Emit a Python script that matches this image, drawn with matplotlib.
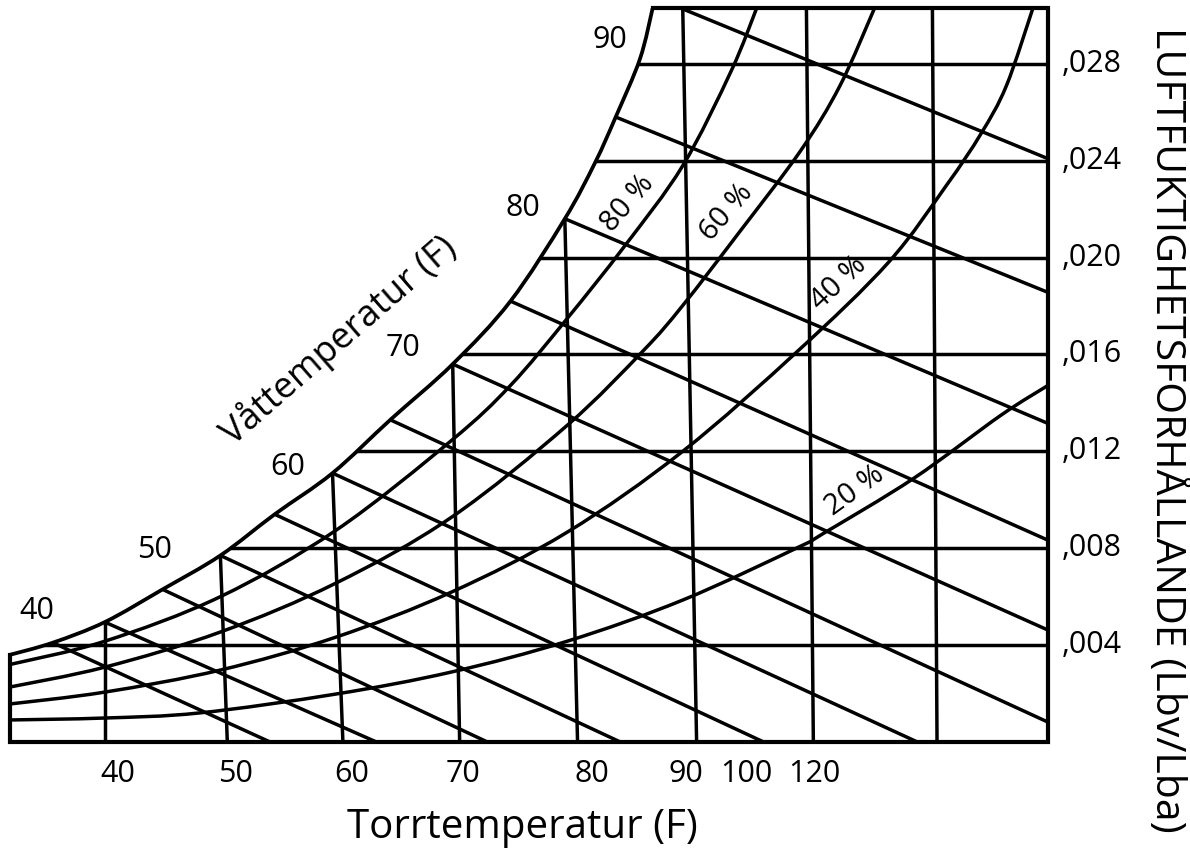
import numpy as np
import matplotlib.pyplot as plt
from matplotlib.path import Path
from matplotlib.patches import PathPatch

plt.rcParams['font.family'] = ['Open Sans', 'DejaVu Sans']

# chart range: dry bulb (F) and humidity ratio (lb/lb)
t_min, t_max = 31.8, 121.6
w_max = 0.0303

# relative humidity curves (dry bulb F, humidity ratio)
sat_t = [31.8, 35.5, 40.0, 45.0, 50.0, 54.7, 59.7, 64.7, 70.1, 75.1, 79.8, 82.4, 84.2, 86.3, 87.4]
sat_w = [0.0036, 0.0041, 0.00495, 0.0063, 0.0077, 0.0094, 0.0111, 0.0133, 0.0156, 0.0182, 0.0216, 0.0239, 0.0258, 0.0282, 0.0303]

rh80_t = [31.8, 40, 50, 60, 70, 75.1, 80, 85, 90, 94.2, 96.4]
rh80_w = [0.0032, 0.00416, 0.0060, 0.00874, 0.01245, 0.01472, 0.01748, 0.02049, 0.02379, 0.02771, 0.0303]

rh60_t = [31.8, 40, 50, 60, 70, 80, 86.6, 90, 95, 100.2, 103.6, 106.6]
rh60_w = [0.00227, 0.00309, 0.00454, 0.00656, 0.00928, 0.01307, 0.01616, 0.01802, 0.02111, 0.02441, 0.02709, 0.0303]

rh40_t = [31.8, 40, 50, 60, 70, 80, 90, 100, 107.8, 112.8, 115.8, 118.0, 120.3]
rh40_w = [0.00157, 0.00206, 0.00297, 0.00433, 0.00619, 0.00866, 0.0120, 0.01616, 0.01980, 0.02297, 0.02511, 0.02709, 0.0303]

rh20_t = [31.8, 40, 48.2, 60, 70, 80, 90, 100, 102.2, 110, 117.5, 121.6]
rh20_w = [0.00091, 0.00099, 0.0012, 0.00198, 0.00289, 0.00416, 0.00586, 0.00804, 0.00862, 0.01089, 0.01348, 0.01472]

# wet bulb lines: start on saturation, end on bottom or right edge
wb_t0 = [35.5, 40.0, 45.0, 50.0, 54.7, 59.7, 64.7, 70.1, 75.1, 79.8, 84.2, 89.8]
wb_w0 = [0.0041, 0.00495, 0.0063, 0.0077, 0.0094, 0.0111, 0.0133, 0.0156, 0.0182, 0.0216, 0.0258, 0.0303]
wb_t1 = [54.3, 63.5, 73.1, 84.6, 97.0, 110.3, 121.6, 121.6, 121.6, 121.6, 121.6, 121.6]
wb_w1 = [0.0, 0.0, 0.0, 0.0, 0.0, 0.0, 0.00082, 0.00462, 0.00833, 0.01315, 0.01856, 0.02408]

# dry bulb lines (slightly slanted)
db_top_t = [40.0, 50.0, 59.7, 70.1, 79.8, 90.0, 100.7, 111.6]
db_top_w = [0.00495, 0.0077, 0.0111, 0.0156, 0.0216, 0.0303, 0.0303, 0.0303]
db_bot_t = [40.0, 50.6, 60.6, 70.7, 80.9, 91.2, 101.3, 112.0]

# humidity ratio lines
w_lines = [0.004, 0.008, 0.012, 0.016, 0.020, 0.024, 0.028]
w_labels = [',004', ',008', ',012', ',016', ',020', ',024', ',028']

# labels
wb_labels = ['40', '50', '60', '70', '80', '90']
wb_lab_t = [34.1, 44.3, 55.8, 65.8, 76.2, 83.7]
wb_lab_w = [0.0054, 0.00792, 0.01134, 0.01625, 0.02206, 0.02899]

x_labels = ['40', '50', '60', '70', '80', '90', '100', '120']
x_lab_t = [41.1, 51.3, 61.4, 71.0, 82.1, 90.3, 95.5, 101.4]

rh_labels = ['80 %', '60 %', '40 %', '20 %']
rh_lab_t = [85.2, 93.8, 103.5, 104.9]
rh_lab_w = [0.02223, 0.02186, 0.01893, 0.01039]
rh_lab_rot = [49, 49, 43, 36]


def smooth_curve(ax, t, w, lw):
    # draw a smooth curve through the read points (cubic bezier segments)
    p = np.column_stack([t, w]).astype(float)
    p = np.vstack([p[0], p, p[-1]])
    verts = [p[1]]
    codes = [Path.MOVETO]
    for i in range(1, len(p) - 2):
        c1 = p[i] + (p[i + 1] - p[i - 1]) / 6
        c2 = p[i + 1] - (p[i + 2] - p[i]) / 6
        verts += [c1, c2, p[i + 1]]
        codes += [Path.CURVE4] * 3
    ax.add_patch(PathPatch(Path(verts, codes), fill=False, edgecolor='black',
                           lw=lw, capstyle='butt'))


fig = plt.figure(figsize=(11.9, 8.48), dpi=100)
ax = fig.add_axes([10 / 1190, 106 / 848, 1038 / 1190, 734 / 848])
ax.set_xlim(t_min, t_max)
ax.set_ylim(0, w_max)
for s in ax.spines.values():
    s.set_visible(False)

lw = 2.5
kw = dict(color='black', lw=lw, solid_capstyle='butt')

for t, w in [(rh80_t, rh80_w), (rh60_t, rh60_w), (rh40_t, rh40_w), (rh20_t, rh20_w)]:
    smooth_curve(ax, t, w, lw)
smooth_curve(ax, sat_t, sat_w, 2.7)

for i in range(len(wb_t0)):
    ax.plot([wb_t0[i], wb_t1[i]], [wb_w0[i], wb_w1[i]], **kw)

for i in range(len(db_top_t)):
    ax.plot([db_top_t[i], db_bot_t[i]], [db_top_w[i], 0], **kw)

for w in w_lines:
    ax.plot([np.interp(w, sat_w, sat_t), t_max], [w, w], **kw)

# outline: top, right, bottom, left edge
ax.plot([sat_t[-1], t_max, t_max, t_min, t_min], [w_max, w_max, 0, 0, sat_w[0]],
        color='black', lw=3.0, clip_on=False, solid_joinstyle='miter')

# axis texts
ax.set_xticks(x_lab_t)
ax.set_xticklabels(x_labels, fontsize=22)
ax.tick_params(axis='x', length=0, pad=12)
ax.yaxis.tick_right()
ax.set_yticks(w_lines)
ax.set_yticklabels(w_labels, fontsize=22, va='center')
ax.tick_params(axis='y', length=0, pad=10)

for s, t, w in zip(wb_labels, wb_lab_t, wb_lab_w):
    ax.text(t, w, s, fontsize=22, ha='center', va='center')

for s, t, w, r in zip(rh_labels, rh_lab_t, rh_lab_w, rh_lab_rot):
    ax.text(t, w, s, fontsize=21, ha='center', va='center', rotation=r,
            rotation_mode='anchor')

ax.text(60.2, 0.01658, 'Våttemperatur (F)', fontsize=26, ha='center', va='center',
        rotation=41, rotation_mode='anchor')

fig.text(522 / 1190, 1 - 828 / 848, 'Torrtemperatur (F)', fontsize=29,
         ha='center', va='center')
fig.text(1168 / 1190, 1 - 430 / 848, 'LUFTFUKTIGHETSFÖRHÅLLANDE (Lbv/Lba)', fontsize=29.5,
         ha='center', va='center', rotation=-90)

fig.savefig('out.png', dpi=100)
